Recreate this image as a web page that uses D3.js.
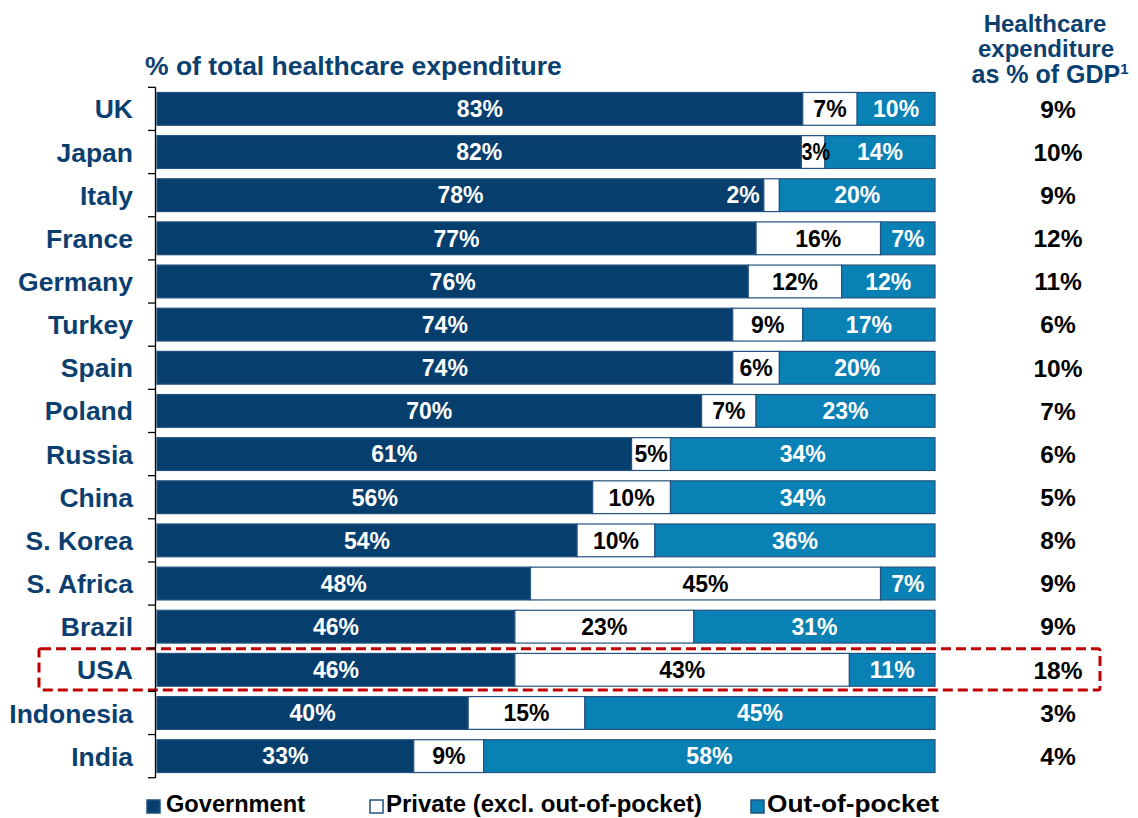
<!DOCTYPE html>
<html>
<head>
<meta charset="utf-8">
<script src="https://cdn.jsdelivr.net/npm/d3@7"></script>
<style>
  html, body { margin: 0; padding: 0; background: #fff; }
  svg { display: block; font-family: "Liberation Sans", Arial, sans-serif; font-weight: bold; }
</style>
</head>
<body>
<svg id="chart" width="1138" height="818"></svg>
<script>
// Share of total healthcare expenditure by source, per country (%)
const countries = ["UK", "Japan", "Italy", "France", "Germany", "Turkey", "Spain", "Poland",
  "Russia", "China", "S. Korea", "S. Africa", "Brazil", "USA", "Indonesia", "India"];
const government = [83, 82, 78, 77, 76, 74, 74, 70, 61, 56, 54, 48, 46, 46, 40, 33];
const privateExcl = [7, 3, 2, 16, 12, 9, 6, 7, 5, 10, 10, 45, 23, 43, 15, 9];
const outOfPocket = [10, 14, 20, 7, 12, 17, 20, 23, 34, 34, 36, 7, 31, 11, 45, 58];
// Total healthcare expenditure as % of GDP
const gdpShare = [9, 10, 9, 12, 11, 6, 10, 7, 6, 5, 8, 9, 9, 18, 3, 4];
const seriesNames = ["Government", "Private (excl. out-of-pocket)", "Out-of-pocket"];
const highlighted = "USA";

const navy = "#063e6e";
const oopBlue = "#0981b5";
const textNavy = "#0b3f70";
const edge = "#22527f";

const svg = d3.select("#chart");

const rows = countries.map((c, i) => ({
  country: c,
  gov: government[i],
  priv: privateExcl[i],
  oop: outOfPocket[i],
  gdp: gdpShare[i]
}));

const keys = ["gov", "priv", "oop"];
const fills = { gov: navy, priv: "#ffffff", oop: oopBlue };
const stack = d3.stack().keys(keys).offset(d3.stackOffsetExpand);
const layers = stack(rows);

const x = d3.scaleLinear().domain([0, 1]).range([157, 935]);
const y = d3.scaleBand().domain(countries).range([87.3, 777.7])
  .paddingInner(0.24).paddingOuter(0.12);

// Highlight frame around the USA row
const hy = y(highlighted);
const gap = y.step() - y.bandwidth();
svg.append("rect")
  .attr("x", 39).attr("y", hy - gap / 2 + 0.5)
  .attr("width", 1061).attr("height", y.step() - 2)
  .attr("rx", 2)
  .attr("fill", "none")
  .attr("stroke", "#c00000")
  .attr("stroke-width", 3)
  .attr("stroke-dasharray", "10,5");

// Stacked segments
const layerG = svg.append("g").selectAll("g").data(layers).join("g")
  .attr("fill", d => fills[d.key]);

layerG.selectAll("rect").data(d => d.map(v => ({ key: d.key, v }))).join("rect")
  .attr("x", d => x(d.v[0]))
  .attr("y", d => y(d.v.data.country))
  .attr("width", d => x(d.v[1]) - x(d.v[0]))
  .attr("height", y.bandwidth())
  .attr("stroke", edge)
  .attr("stroke-width", 1.2);

// Segment value labels
const labels = svg.append("g").attr("font-size", 23);
layers.forEach(layer => {
  layer.forEach(v => {
    const val = v.data[layer.key];
    const x0 = x(v[0]), x1 = x(v[1]);
    const w = x1 - x0;
    const cy = y(v.data.country) + y.bandwidth() / 2;
    const t = labels.append("text").attr("y", cy).attr("dy", "0.36em").text(val + "%");
    if (layer.key === "priv") {
      if (val < 3) {
        t.attr("x", x0 - 4).attr("text-anchor", "end").attr("fill", "#fff");
      } else {
        t.attr("x", (x0 + x1) / 2).attr("text-anchor", "middle").attr("fill", "#000");
        if (w < 30) {
          t.attr("x", x0 + (w + 5) / 2)
            .attr("textLength", w + 5).attr("lengthAdjust", "spacingAndGlyphs");
        }
      }
    } else {
      t.attr("x", (x0 + x1) / 2).attr("text-anchor", "middle").attr("fill", "#fff");
    }
  });
});

// Category axis: spine with ticks on the band boundaries
const axisG = svg.append("g").attr("stroke", "#000").attr("stroke-width", 1.3);
const [r0, r1] = y.range();
axisG.append("line").attr("x1", 155.5).attr("x2", 155.5).attr("y1", r0).attr("y2", r1);
const bounds = countries.map(c => y(c) - gap / 2).concat([r1]);
axisG.selectAll("line.tick").data(bounds).join("line").attr("class", "tick")
  .attr("x1", 148).attr("x2", 155.5).attr("y1", d => d).attr("y2", d => d);

// Country names
svg.append("g").selectAll("text").data(rows).join("text")
  .attr("x", 133).attr("y", d => y(d.country) + y.bandwidth() / 2)
  .attr("dy", "0.36em").attr("text-anchor", "end")
  .attr("fill", textNavy).attr("font-size", 26.5)
  .text(d => d.country);

// Expenditure as % of GDP column
svg.append("g").selectAll("text").data(rows).join("text")
  .attr("x", 1058).attr("y", d => y(d.country) + y.bandwidth() / 2)
  .attr("dy", "0.36em").attr("text-anchor", "middle")
  .attr("fill", "#000").attr("font-size", 24.5)
  .text(d => d.gdp + "%");

// Titles
svg.append("text").attr("x", 145).attr("y", 75)
  .attr("fill", textNavy).attr("font-size", 26.5)
  .text("% of total healthcare expenditure");

const head = svg.append("g").attr("fill", textNavy).attr("font-size", 24)
  .attr("text-anchor", "middle");
head.append("text").attr("x", 1045).attr("y", 32).text("Healthcare");
head.append("text").attr("x", 1046).attr("y", 57).text("expenditure");
const h3 = head.append("text").attr("x", 1050).attr("y", 82.5).attr("font-size", 25);
h3.append("tspan").text("as % of GDP");
h3.append("tspan").attr("font-size", 15).attr("dy", -9).text("1");

// Legend
const legendItems = [
  { name: seriesNames[0], fill: navy, sx: 147, tx: 166, len: 139 },
  { name: seriesNames[1], fill: "#ffffff", sx: 370, tx: 386, len: 316 },
  { name: seriesNames[2], fill: oopBlue, sx: 751, tx: 767, len: 172 }
];
const lg = svg.append("g");
legendItems.forEach(it => {
  lg.append("rect").attr("x", it.sx).attr("y", 800).attr("width", 13).attr("height", 13)
    .attr("fill", it.fill).attr("stroke", edge).attr("stroke-width", 1.5);
  lg.append("text").attr("x", it.tx).attr("y", 812).attr("font-size", 23)
    .attr("textLength", it.len).attr("lengthAdjust", "spacingAndGlyphs")
    .attr("fill", "#000").text(it.name);
});
</script>
</body>
</html>
